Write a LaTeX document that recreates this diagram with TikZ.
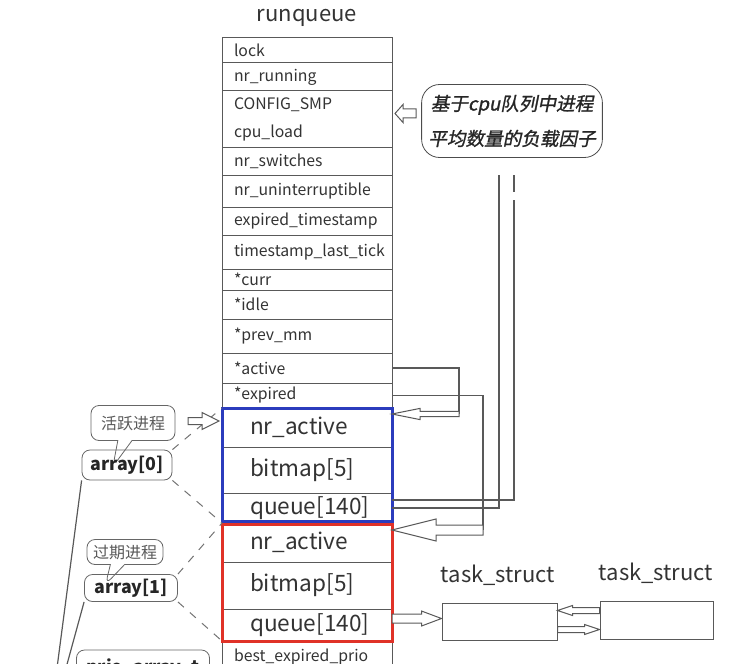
\documentclass[tikz,border=0pt]{standalone}
\usepackage{fontspec}
\setmainfont{Noto Sans CJK SC}
\newfontfamily\cjkit[FakeSlant=0.2,FakeBold=1.2]{Noto Sans CJK SC}
\usetikzlibrary{positioning,calc,shapes.callouts}

\definecolor{frameblue}{RGB}{43,60,189}
\definecolor{framered}{RGB}{224,50,40}

\tikzset{
  rqrow/.style={draw=black!65, line width=0.5pt, text width=73pt, inner xsep=6pt, inner ysep=0pt,
    outer sep=0pt, align=left, font=\fontsize{7.9}{14}\selectfont, text=black!80},
  prow/.style={rqrow, text width=57pt, inner xsep=14pt, font=\fontsize{11.3}{14}\selectfont},
  aframe/.style={line width=1.5pt},
  link/.style={draw=black!65, line width=0.6pt},
  zoomline/.style={draw=black!55, line width=0.5pt, dash pattern=on 4pt off 4pt},
  hollow/.style={draw=black!65, fill=white, line width=0.5pt, line join=miter},
  tag/.style={rectangle callout, rounded corners=4pt, draw=black!60, fill=white, text=black!65,
    font=\fontsize{8}{10}\selectfont, inner sep=0pt},
  arraybox/.style={draw=black!60, rounded corners=4pt, font=\fontsize{8.9}{11}\selectfont\bfseries,
    text=black!85, inner sep=0pt},
  loadnote/.style={draw=black!70, rounded corners=9pt, minimum width=89.5pt, minimum height=36.5pt,
    align=center, font=\cjkit\fontsize{9.3}{17.5}\selectfont, text=black!85},
  tsbox/.style={draw=black!65, line width=0.5pt, minimum width=57.5pt, minimum height=18.5pt, inner sep=0pt},
  tslabel/.style={font=\fontsize{11}{13}\selectfont, text=black!80},
}

% hollow block arrow: [opts]{tail}{tip}{shaft half}{head half}{head length}
\newcommand\hollowarrow[6][]{%
  \draw[hollow,#1] let \p1=(#2), \p2=(#3), \n1={sign(\x2-\x1)*#6} in
    (\x1,\y1+#4) -- ({\x2-(\n1)},\y1+#4) -- ({\x2-(\n1)},\y1+#5) -- (\x2,\y1)
    -- ({\x2-(\n1)},\y1-#5) -- ({\x2-(\n1)},\y1-#4) -- (\x1,\y1-#4) -- cycle;}

\begin{document}
\begin{tikzpicture}[x=0.5pt,y=-0.5pt,node distance=0pt]
  \useasboundingbox (0,0) rectangle (742,663);

  % runqueue
  \node[font=\fontsize{11}{13}\selectfont, text=black!80] (rqtitle) at (307,18) {runqueue};
  \node[rqrow, minimum height=12.5pt, anchor=north] (lock) at (307,38) {lock};
  \node[rqrow, minimum height=14pt, below=of lock] (nrrun) {nr\_running};
  \node[rqrow, minimum height=28.5pt, below=of nrrun] (smp) {CONFIG\_SMP\\cpu\_load};
  \node[rqrow, minimum height=13.5pt, below=of smp] (nrsw) {nr\_switches};
  \node[rqrow, minimum height=16pt, below=of nrsw] (nrun) {nr\_uninterruptible};
  \node[rqrow, minimum height=14pt, below=of nrun] (expts) {expired\_timestamp};
  \node[rqrow, minimum height=17pt, below=of expts] (lastts) {timestamp\_last\_tick};
  \node[rqrow, minimum height=10.5pt, below=of lastts] (curr) {*curr};
  \node[rqrow, minimum height=14.5pt, below=of curr] (idle) {*idle};
  \node[rqrow, minimum height=17pt, below=of idle] (prevmm) {*prev\_mm};
  \node[rqrow, minimum height=15pt, below=of prevmm] (act) {*active};
  \node[rqrow, minimum height=12.5pt, below=of act] (exp) {*expired};
  % array[0]
  \node[prow, minimum height=19.5pt, below=of exp] (a0nr) {nr\_active};
  \node[prow, minimum height=23pt, below=of a0nr] (a0bm) {bitmap[5]};
  \node[prow, minimum height=15pt, below=of a0bm] (a0q) {queue[140]};
  % array[1]
  \node[prow, minimum height=19.5pt, below=of a0q] (a1nr) {nr\_active};
  \node[prow, minimum height=23.5pt, below=of a1nr] (a1bm) {bitmap[5]};
  \node[prow, minimum height=16pt, below=of a1bm] (a1q) {queue[140]};
  \node[rqrow, minimum height=16.5pt, below=of a1q] (bestexp) {best\_expired\_prio};
  \draw[aframe, draw=frameblue] (a0nr.north west) rectangle ([yshift=0.75pt]a0q.south east);
  \draw[aframe, draw=framered] ([yshift=-0.75pt]a1nr.north west) rectangle (a1q.south east);

  % left side
  \node[tag, minimum width=42pt, minimum height=17.5pt, callout relative pointer={(-6pt,-13pt)}] (a0tag) at (133,423) {活跃进程};
  \node[arraybox, minimum width=45pt, minimum height=15pt] (a0) at (127,465) {array[0]};
  \node[tag, minimum width=38pt, minimum height=12.5pt, callout relative pointer={(-6pt,-10pt)}] (a1tag) at (125,552) {过期进程};
  \node[arraybox, minimum width=46.5pt, minimum height=13.5pt] (a1) at (131,588) {array[1]};
  \node[arraybox, minimum width=66.5pt, minimum height=18pt] (prio) at (143,668) {prio\_array\_t};
  \coordinate (a0end) at (57,668);
  \coordinate (a1end) at (66,668);
  \draw[link] (a0.south west) -- (a0end);
  \draw[link] (a1.south west) -- (a1end);
  \draw[zoomline] (a0.north east) -- (a0nr.north west);
  \draw[zoomline] (a0.south east) -- (a0q.south west);
  \draw[zoomline] (a1.north east) -- (a1nr.north west);
  \draw[zoomline] (a1.south east) -- (a1q.south west);
  \coordinate (a0in) at ([xshift=-1.5pt,yshift=3.25pt]a0nr.west);
  \coordinate (a0out) at ([xshift=-15.5pt]a0in);
  \hollowarrow{a0out}{a0in}{1.75pt}{4.25pt}{8.5pt}

  % load note
  \node[loadnote] (load) at (512,121) {基于cpu队列中进程\\平均数量的负载因子};
  \coordinate (loadin) at ([xshift=1.5pt,yshift=3pt]smp.east);
  \coordinate (loadout) at ([xshift=10.5pt]loadin);
  \hollowarrow{loadout}{loadin}{2.25pt}{4.5pt}{4pt}

  % *active and *expired
  \coordinate (actin) at ([yshift=-3pt]a0nr.north east);
  \coordinate (actbend) at ([xshift=33.5pt]actin);
  \draw[link] (act.east) -| (actbend);
  \hollowarrow{actbend}{actin}{1.3pt}{2.8pt}{14pt}
  \coordinate (expin) at ([yshift=-3.5pt]a1nr.north east);
  \coordinate (expbend) at ([xshift=45.5pt]expin);
  \draw[link] (exp.east) -| (expbend);
  \hollowarrow{expbend}{expin}{2.5pt}{5.5pt}{22pt}

  % queue links
  \coordinate (qtopa) at (499,175);
  \coordinate (qtopb) at (514,175);
  \draw[link] (qtopa) |- (a0q.east);
  \draw[link] (qtopb) -- ++(0,17) ++(0,8) |- ([yshift=4pt]a0q.east);

  % task_struct
  \node[tslabel] (ts1lab) at (498,575) {task\_struct};
  \node[tslabel] (ts2lab) at (656,573) {task\_struct};
  \node[tsbox] (ts1) at (499.5,621.5) {};
  \node[tsbox, minimum width=56.5pt, minimum height=19pt] (ts2) at (656.5,620) {};
  \coordinate (tsin) at ([yshift=1.5pt]ts1.west);
  \hollowarrow{a1q.east |- tsin}{tsin}{2.25pt}{3.75pt}{10pt}
  \coordinate (tsprev) at ([yshift=-4pt]ts1.north east);
  \coordinate (tsnext) at ([yshift=5pt]ts2.south west);
  \hollowarrow{ts2.west |- tsprev}{tsprev}{1.5pt}{2.5pt}{7.5pt}
  \hollowarrow{ts1.east |- tsnext}{tsnext}{1.5pt}{2.5pt}{7.5pt}
\end{tikzpicture}
\end{document}
